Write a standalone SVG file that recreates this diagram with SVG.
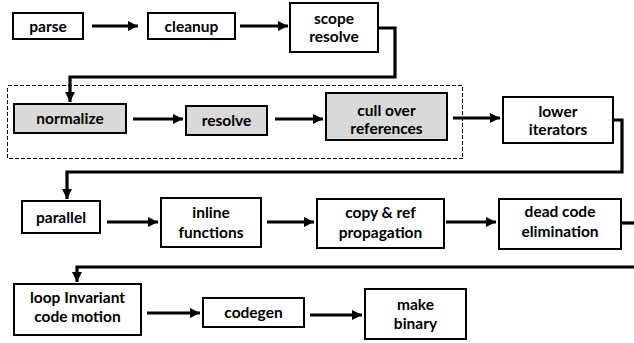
<svg xmlns="http://www.w3.org/2000/svg" width="634" height="343" viewBox="0 0 634 343">
<style>
.box{fill:#fff;stroke:#000;stroke-width:2}
.gray{fill:#d9d9d9}
.lbl{font-family:Lato,"Open Sans","Liberation Sans",sans-serif;font-weight:bold;font-size:15.5px;text-anchor:middle;fill:#000}
.c{fill:none;stroke:#000;stroke-width:3.2}
.a{marker-end:url(#ah)}
</style>
<defs>
<marker id="ah" markerUnits="userSpaceOnUse" markerWidth="10" markerHeight="10" refX="10" refY="5" orient="auto">
<path d="M0,0 L10,5 L0,10 z" fill="#000"/>
</marker>
</defs>
<rect x="7.5" y="85.5" width="455" height="73" fill="none" stroke="#000" stroke-width="1" stroke-dasharray="4,2" shape-rendering="crispEdges"/>
<g id="connectors">
<path class="c a" d="M92,26 H138"/>
<path class="c a" d="M240,26 H288"/>
<path class="c a" d="M378,28 H395 V77 H70 V102"/>
<path class="c a" d="M133,119 H183"/>
<path class="c a" d="M275,119 H323"/>
<path class="c a" d="M453,118 H500"/>
<path class="c a" d="M613,120 H622 V172 H67 V199"/>
<path class="c a" d="M107,222 H158"/>
<path class="c a" d="M267,222 H314"/>
<path class="c a" d="M446,222 H496"/>
<path class="c" d="M621,223 H640"/>
<path class="c a" d="M640,267 H77 V282"/>
<path class="c a" d="M147,313 H200"/>
<path class="c a" d="M310,315 H362"/>
</g>
<g id="parse"><rect class="box" x="13" y="13" width="70" height="26"/><text class="lbl" x="48" y="31.5">parse</text></g>
<g id="cleanup"><rect class="box" x="148" y="13" width="87" height="26"/><text class="lbl" x="191.5" y="31.5">cleanup</text></g>
<g id="scope_resolve"><rect class="box" x="290" y="3" width="88" height="49"/><text class="lbl" x="334" y="23.5">scope</text><text class="lbl" x="334" y="42">resolve</text></g>
<g id="normalize"><rect class="box gray" x="14" y="104" width="112" height="29"/><text class="lbl" x="70" y="123.5">normalize</text></g>
<g id="resolve"><rect class="box gray" x="186" y="106" width="81" height="29"/><text class="lbl" x="226.5" y="125.5">resolve</text></g>
<g id="cull_over_references"><rect class="box gray" x="326" y="93" width="121" height="47"/><text class="lbl" x="386.5" y="115.5">cull over</text><text class="lbl" x="386.5" y="133.5">references</text></g>
<g id="lower_iterators"><rect class="box" x="503" y="97" width="110" height="46"/><text class="lbl" x="558" y="116.5">lower</text><text class="lbl" x="558" y="134.5">iterators</text></g>
<g id="parallel"><rect class="box" x="22" y="201" width="78" height="32"/><text class="lbl" x="61" y="222.5">parallel</text></g>
<g id="inline_functions"><rect class="box" x="161" y="198" width="100" height="49"/><text class="lbl" x="211" y="217.5">inline</text><text class="lbl" x="211" y="237.5">functions</text></g>
<g id="copy_ref_propagation"><rect class="box" x="317" y="199" width="127" height="49"/><text class="lbl" x="380.5" y="217.5">copy &amp; ref</text><text class="lbl" x="380.5" y="237.5">propagation</text></g>
<g id="dead_code_elimination"><rect class="box" x="499" y="199" width="122" height="50"/><text class="lbl" x="560" y="216.5">dead code</text><text class="lbl" x="560" y="236.5">elimination</text></g>
<g id="loop_invariant_code_motion"><rect class="box" x="14" y="284" width="127" height="51"/><text class="lbl" x="77.5" y="302.5">loop Invariant</text><text class="lbl" x="77.5" y="321.5">code motion</text></g>
<g id="codegen"><rect class="box" x="203" y="298" width="101" height="29"/><text class="lbl" x="253.5" y="317.5">codegen</text></g>
<g id="make_binary"><rect class="box" x="365" y="289" width="101" height="50"/><text class="lbl" x="415.5" y="309.5">make</text><text class="lbl" x="415.5" y="328.5">binary</text></g>
</svg>
